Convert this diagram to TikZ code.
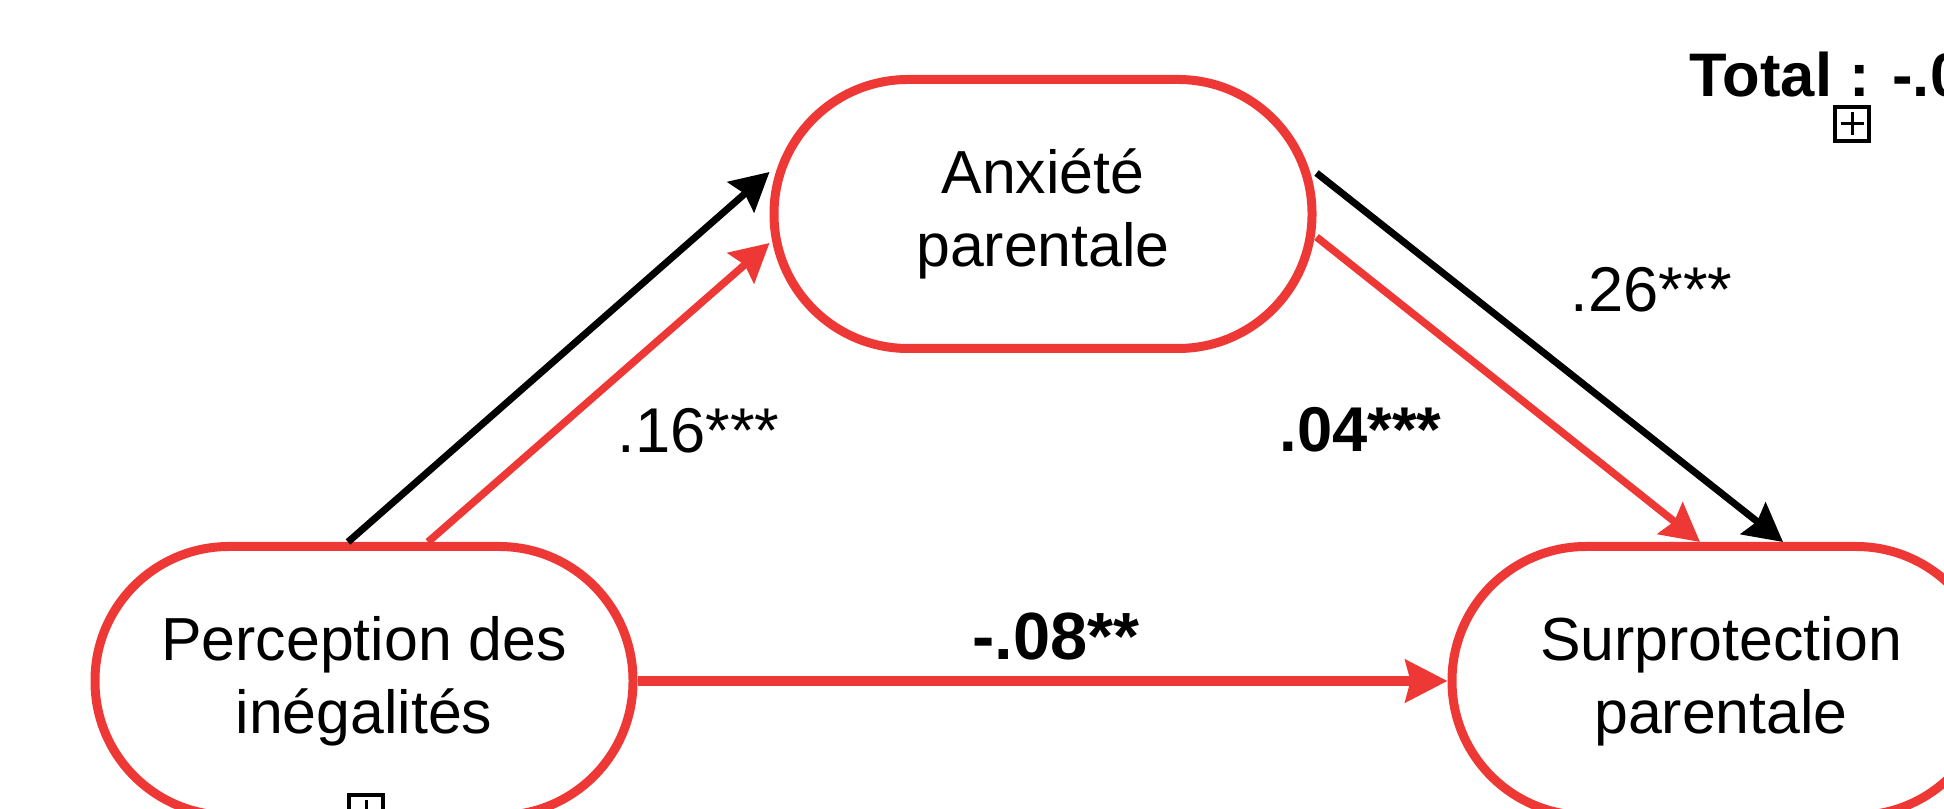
\documentclass[tikz,border=0pt]{standalone}
\usepackage{fontspec}
\setmainfont{Liberation Sans}
\usepackage{tikz}
\usetikzlibrary{arrows.meta}
\definecolor{pathred}{HTML}{EE3835}

\begin{document}
\begin{tikzpicture}[->,>={Stealth[length=0.38cm,width=0.4cm,inset=0.05cm]},font=\fontsize{17.3}{20.8}\selectfont]
        \tikzstyle{var}=[rectangle,rounded corners=1.34cm,draw=pathred,line width=0.09cm,fill=white,text=black,minimum width=5.38cm,minimum height=2.69cm,align=center,inner sep=0pt]
        \tikzstyle{coef}=[inner sep=0pt,anchor=base west,font=\fontsize{18}{21}\selectfont]
        \tikzstyle{plusbox}=[draw,line width=0.035cm,minimum size=0.34cm,inner sep=0pt,
            path picture={\draw[-,line width=0.03cm] ([yshift=-0.055cm]path picture bounding box.north) -- ([yshift=0.055cm]path picture bounding box.south)
                ([xshift=0.055cm]path picture bounding box.west) -- ([xshift=-0.055cm]path picture bounding box.east);}]
        \useasboundingbox (0,0) rectangle (19.44,8.09);
        \node[var] (anx) at (10.43,5.95) {Anxiété\\parentale};
        \node[var] (perc) at (3.64,1.28) {Perception des\\inégalités};
        \node[var] (surp) at (17.21,1.28) {Surprotection\\parentale};
        \node[plusbox] (tog1) at (18.52,6.85) {};
        \node[plusbox] (tog2) at (3.66,-0.03) {};
        \node[inner sep=0pt,anchor=base west,font=\fontsize{17.5}{21}\selectfont\bfseries] (total) at (16.89,7.12) {Total : -.0};
    % a et b
    \path[line width=0.07cm]
        ([xshift=-0.16cm]perc.north) edge ([yshift=0.42cm]anx.west)
        ([yshift=0.41cm]anx.east) edge ([xshift=0.62cm]surp.north);
    \path[pathred,line width=0.075cm]
        ([xshift=0.64cm]perc.north) edge ([yshift=-0.29cm]anx.west)
        ([yshift=-0.23cm]anx.east) edge ([xshift=-0.21cm]surp.north);
    % c'
    \path[pathred,line width=0.1cm,>={Stealth[length=0.42cm,width=0.42cm,inset=0.05cm]}]
        (perc) edge (surp);
        \node[coef] (c16) at (6.17,3.56) {.16***};
        \node[coef] (c26) at (15.70,4.97) {.26***};
        \node[coef,font=\fontsize{18}{21}\selectfont\bfseries] (c04) at (12.79,3.57) {.04***};
        \node[coef,font=\fontsize{19}{21}\selectfont\bfseries] (c08) at (9.72,1.49) {-.08**};
\end{tikzpicture}
\end{document}
